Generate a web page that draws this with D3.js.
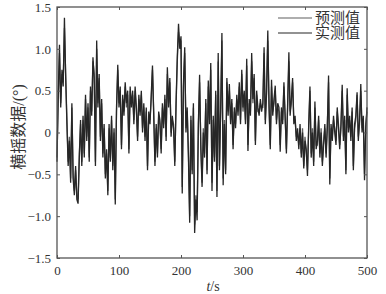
<!DOCTYPE html>
<html><head><meta charset="utf-8">
<script src="https://cdn.jsdelivr.net/npm/d3@7"></script>
<style>body{margin:0;background:#fff}svg{display:block}</style>
</head><body>
<svg id="c" width="386" height="294"></svg>
<script>
const tStep = 2;
const measured = [
-0.35,0.45,1.05,0.3,0.75,0.55,1.37,0.65,0.1,-0.4,
-0.1,-0.6,0.35,-0.55,-0.75,-0.4,-0.8,-0.85,-0.3,0.15,
-0.4,0.2,-0.3,0.45,-0.1,0.35,-0.35,0.55,0.2,0.9,
0.65,-0.4,1.1,0.3,0.7,-0.1,0.4,-0.3,0.1,-0.55,
-0.2,-0.75,0.1,-0.35,0.2,-0.45,0.05,-0.86,0.3,0.81,
0.3,0.55,-0.2,0.45,0.2,0.6,0.35,0.5,-0.25,0.55,
0.3,0.5,0.1,0.55,0.3,-0.1,0.45,0.2,0.5,0.0,
0.35,-0.1,0.3,-0.45,0.25,0.1,0.45,0.8,0.2,-0.4,
0.1,-0.3,0.25,0.15,-0.25,0.35,0.05,0.45,-0.1,0.78,
0.3,0.65,-0.05,0.2,0.05,-0.4,0.35,0.9,1.3,1.0,
1.15,-0.73,0.6,1.02,0.0,0.3,-0.3,-1.08,0.2,-0.5,
0.35,-1.2,-0.8,-1.05,0.1,0.69,-0.2,-0.65,0.0,-0.3,
0.4,-0.5,0.62,0.1,0.83,-0.7,0.2,-0.35,0.5,-0.77,
0.95,-0.45,0.3,1.19,-0.63,0.1,-0.5,0.65,0.2,0.58,
0.1,0.4,-0.2,0.3,0.05,0.45,0.2,0.6,0.1,0.75,
0.3,0.5,0.1,0.88,-0.22,0.4,0.2,0.95,0.4,0.7,
-0.15,0.5,0.3,0.2,0.4,0.25,0.35,1.02,0.1,0.5,
1.22,0.3,-0.2,0.63,0.2,0.4,0.56,0.1,0.35,0.3,
-0.23,0.3,0.1,0.6,0.2,-0.25,0.35,0.96,0.2,0.4,
0.65,0.1,0.2,-0.1,0.05,-0.2,0.1,-0.3,0.0,-0.43,
-0.1,-0.2,-0.52,0.1,0.55,-0.3,0.0,-0.4,0.37,-0.2,
-0.1,0.2,-0.3,0.0,-0.4,-0.15,0.1,-0.3,0.05,0.68,
-0.62,0.1,-0.1,0.2,0.0,-0.15,0.3,0.05,-0.2,0.1,
0.57,-0.1,0.2,-0.5,0.53,0.0,0.2,-0.1,0.3,-0.45,
0.1,0.2,0.48,-0.1,0.15,0.58,0.0,0.2,-0.57,0.05,
0.3];
const predicted = [
-0.3,0.4,0.95,0.35,0.7,0.6,1.25,0.7,0.15,-0.35,
-0.05,-0.55,0.3,-0.5,-0.7,-0.45,-0.75,-0.8,-0.25,0.1,
-0.35,0.15,-0.25,0.4,-0.05,0.3,-0.3,0.5,0.25,0.85,
0.7,-0.35,1.0,0.35,0.65,-0.05,0.35,-0.25,0.05,-0.5,
-0.25,-0.7,0.05,-0.3,0.15,-0.4,0.0,-0.8,0.25,0.75,
0.35,0.5,-0.15,0.4,0.25,0.55,0.3,0.45,-0.2,0.5,
0.35,0.45,0.15,0.5,0.25,-0.05,0.4,0.25,0.45,0.05,
0.3,-0.05,0.25,-0.4,0.2,0.15,0.4,0.75,0.25,-0.35,
0.05,-0.25,0.2,0.1,-0.2,0.3,0.1,0.4,-0.05,0.7,
0.35,0.6,0.0,0.15,0.1,-0.35,0.3,0.85,1.2,1.05,
1.1,-0.65,0.55,0.95,0.05,0.25,-0.25,-1.0,0.15,-0.45,
0.3,-1.1,-0.75,-0.95,0.05,0.6,-0.15,-0.6,0.05,-0.25,
0.35,-0.45,0.55,0.15,0.75,-0.6,0.15,-0.3,0.45,-0.7,
0.85,-0.4,0.25,1.1,-0.55,0.15,-0.45,0.6,0.25,0.5,
0.15,0.35,-0.15,0.25,0.1,0.4,0.25,0.55,0.15,0.7,
0.25,0.45,0.15,0.8,-0.15,0.35,0.25,0.85,0.35,0.65,
-0.1,0.45,0.25,0.25,0.35,0.3,0.3,0.95,0.15,0.45,
1.1,0.35,-0.15,0.55,0.25,0.35,0.5,0.15,0.3,0.25,
-0.15,0.25,0.15,0.55,0.15,-0.2,0.3,0.85,0.25,0.35,
0.6,0.15,0.15,-0.05,0.0,-0.15,0.05,-0.25,0.05,-0.4,
-0.05,-0.25,-0.45,0.05,0.5,-0.25,0.05,-0.35,0.3,-0.15,
-0.15,0.15,-0.25,0.05,-0.35,-0.1,0.05,-0.25,0.1,0.6,
-0.55,0.05,-0.05,0.15,0.05,-0.1,0.25,0.1,-0.15,0.05,
0.5,-0.05,0.15,-0.45,0.45,0.05,0.15,-0.05,0.25,-0.4,
0.05,0.15,0.45,-0.05,0.1,0.5,0.05,0.15,-0.5,0.1,
0.25];
const xTicks = [0,100,200,300,400,500];
const yTicks = [-1.5,-1.0,-0.5,0,0.5,1.0,1.5];
const yTickLabels = ["\u22121.5","\u22121.0","\u22120.5","0","0.5","1.0","1.5"];
const seriesNames = ["预测值","实测值"];
const seriesColors = ["#5e5e5e","#262626"];

const svg = d3.select("#c");
const L=57, T=7, R=367, B=258;
const x = d3.scaleLinear().domain([0,500]).range([L,R]);
const y = d3.scaleLinear().domain([-1.5,1.5]).range([B,T]);
const serif = "'Liberation Serif','Times New Roman',serif";
const cjk = "'Liberation Serif','Noto Sans CJK SC',serif";

const line = d3.line().x((d,i)=>x(i*tStep)).y(d=>y(d));
svg.append("path").datum(predicted).attr("d",line).attr("fill","none")
  .attr("stroke",seriesColors[0]).attr("stroke-width",1.3);
svg.append("path").datum(measured).attr("d",line).attr("fill","none")
  .attr("stroke",seriesColors[1]).attr("stroke-width",1.3);

// frame
svg.append("rect").attr("x",L).attr("y",T).attr("width",R-L).attr("height",B-T)
  .attr("fill","none").attr("stroke","#555").attr("stroke-width",1.3);

const fmtY = v => yTickLabels[yTicks.indexOf(v)];
const ax = (g)=>{g.select(".domain").remove(); g.selectAll("text").attr("font-family",serif).attr("font-size",13).attr("fill","#333"); g.selectAll("line").attr("stroke","#555");};
svg.append("g").attr("transform",`translate(0,${B})`)
  .call(d3.axisBottom(x).tickValues(xTicks).tickSize(-3).tickPadding(8).tickFormat(d3.format("d"))).call(ax);
svg.append("g").attr("transform",`translate(0,${T})`)
  .call(d3.axisTop(x).tickValues(xTicks).tickSize(-3).tickFormat("")).call(ax);
svg.append("g").attr("transform",`translate(${L},0)`)
  .call(d3.axisLeft(y).tickValues(yTicks).tickSize(-3).tickPadding(6).tickFormat(fmtY)).call(ax);
svg.append("g").attr("transform",`translate(${R},0)`)
  .call(d3.axisRight(y).tickValues(yTicks).tickSize(-3).tickFormat("")).call(ax);

// x label
const xl = svg.append("text").attr("x",213).attr("y",291).attr("text-anchor","middle")
  .attr("font-family",serif).attr("font-size",14).attr("fill","#333");
xl.append("tspan").attr("font-style","italic").text("t");
xl.append("tspan").text("/s");

// y label
svg.append("text").attr("transform","translate(24,127) rotate(-90)").attr("text-anchor","middle")
  .attr("font-family",cjk).attr("font-size",16).attr("fill","#333").text("横摇数据/(°)");

// legend
seriesNames.forEach((n,i)=>{
  const yy = 18 + i*15;
  svg.append("line").attr("x1",278).attr("x2",312).attr("y1",yy).attr("y2",yy)
    .attr("stroke",seriesColors[i]).attr("stroke-width",1.2);
  svg.append("text").attr("x",315).attr("y",yy+5).attr("font-family",cjk)
    .attr("font-size",15).attr("fill","#333").text(n);
});
</script>
</body></html>
